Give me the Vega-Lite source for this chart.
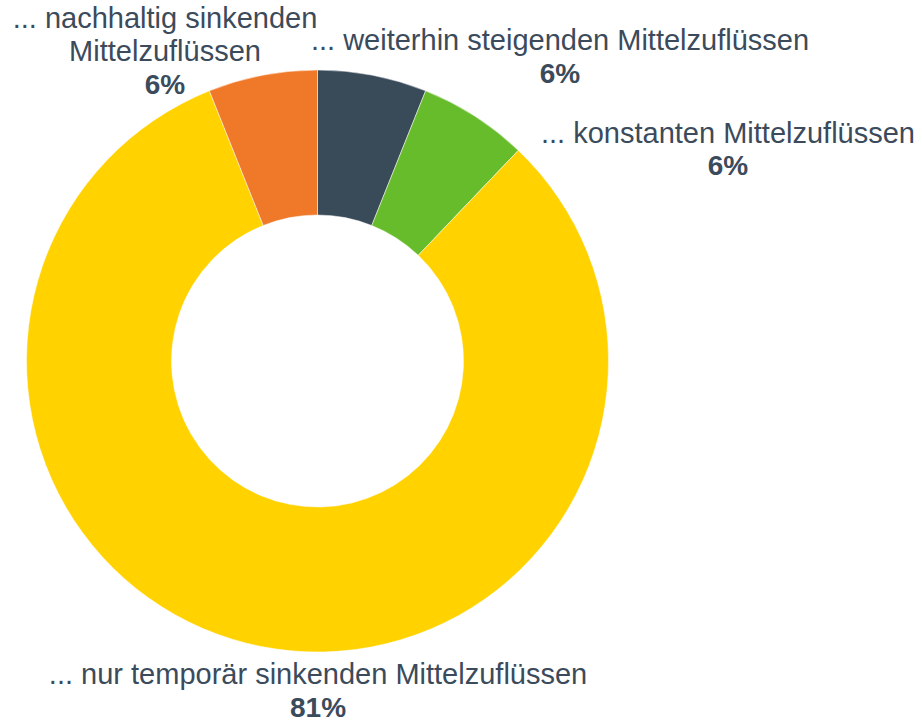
{
  "$schema": "https://vega.github.io/schema/vega-lite/v6.json",
  "width": 635,
  "height": 722,
  "autosize": {"type": "none"},
  "padding": {"left": 0, "top": 0, "right": 287, "bottom": 3},
  "background": "white",
  "view": {"stroke": null},
  "data": {
    "values": [
      {"category": "weiterhin steigend", "label": "... weiterhin steigenden Mittelzuflüssen", "share": 6, "order": 1},
      {"category": "konstant", "label": "... konstanten Mittelzuflüssen", "share": 6, "order": 2},
      {"category": "nur temporär sinkend", "label": "... nur temporär sinkenden Mittelzuflüssen", "share": 81, "order": 3},
      {"category": "nachhaltig sinkend", "label": "... nachhaltig sinkenden\nMittelzuflüssen", "share": 6, "order": 4}
    ]
  },
  "transform": [{"calculate": "datum.share + '%'", "as": "pct"}],
  "encoding": {
    "theta": {"field": "share", "type": "quantitative", "stack": true},
    "order": {"field": "order", "type": "quantitative", "sort": "ascending"}
  },
  "layer": [
    {
      "mark": {"type": "arc", "outerRadius": 291, "innerRadius": 146, "stroke": "white", "strokeWidth": 0.5},
      "encoding": {
        "color": {
          "field": "category",
          "type": "nominal",
          "legend": null,
          "scale": {
            "domain": ["weiterhin steigend", "konstant", "nur temporär sinkend", "nachhaltig sinkend"],
            "range": ["#394a59", "#67bc2c", "#ffd200", "#ef7928"]
          }
        }
      }
    },
    {
      "mark": {"type": "text", "radius": 300, "dx": 185.7, "dy": -16.4, "font": "Liberation Sans", "fontSize": 29, "fill": "#3b4b5b", "align": "center", "baseline": "alphabetic"},
      "encoding": {"text": {"condition": {"test": "datum.order == 1", "field": "label", "type": "nominal"}, "value": ""}}
    },
    {
      "mark": {"type": "text", "radius": 300, "dx": 185.7, "dy": 16.6, "font": "Liberation Sans", "fontSize": 28, "fontWeight": "bold", "fill": "#3b4b5b", "align": "center", "baseline": "alphabetic"},
      "encoding": {"text": {"condition": {"test": "datum.order == 1", "field": "pct", "type": "nominal"}, "value": ""}}
    },
    {
      "mark": {"type": "text", "radius": 300, "dx": 248.3, "dy": 34.4, "font": "Liberation Sans", "fontSize": 29, "fill": "#3b4b5b", "align": "center", "baseline": "alphabetic"},
      "encoding": {"text": {"condition": {"test": "datum.order == 2", "field": "label", "type": "nominal"}, "value": ""}}
    },
    {
      "mark": {"type": "text", "radius": 300, "dx": 248.3, "dy": 66.4, "font": "Liberation Sans", "fontSize": 28, "fontWeight": "bold", "fill": "#3b4b5b", "align": "center", "baseline": "alphabetic"},
      "encoding": {"text": {"condition": {"test": "datum.order == 2", "field": "pct", "type": "nominal"}, "value": ""}}
    },
    {
      "mark": {"type": "text", "radius": 300, "dx": 57.3, "dy": 28.9, "font": "Liberation Sans", "fontSize": 29, "fill": "#3b4b5b", "align": "center", "baseline": "alphabetic"},
      "encoding": {"text": {"condition": {"test": "datum.order == 3", "field": "label", "type": "nominal"}, "value": ""}}
    },
    {
      "mark": {"type": "text", "radius": 300, "dx": 57.3, "dy": 61.4, "font": "Liberation Sans", "fontSize": 28, "fontWeight": "bold", "fill": "#3b4b5b", "align": "center", "baseline": "alphabetic"},
      "encoding": {"text": {"condition": {"test": "datum.order == 3", "field": "pct", "type": "nominal"}, "value": ""}}
    },
    {
      "mark": {"type": "text", "radius": 300, "dx": -95.7, "dy": -38.4, "font": "Liberation Sans", "fontSize": 29, "fill": "#3b4b5b", "align": "center", "baseline": "alphabetic", "lineBreak": "\n", "lineHeight": 33},
      "encoding": {"text": {"condition": {"test": "datum.order == 4", "field": "label", "type": "nominal"}, "value": ""}}
    },
    {
      "mark": {"type": "text", "radius": 300, "dx": -95.7, "dy": 27.6, "font": "Liberation Sans", "fontSize": 28, "fontWeight": "bold", "fill": "#3b4b5b", "align": "center", "baseline": "alphabetic"},
      "encoding": {"text": {"condition": {"test": "datum.order == 4", "field": "pct", "type": "nominal"}, "value": ""}}
    }
  ]
}
